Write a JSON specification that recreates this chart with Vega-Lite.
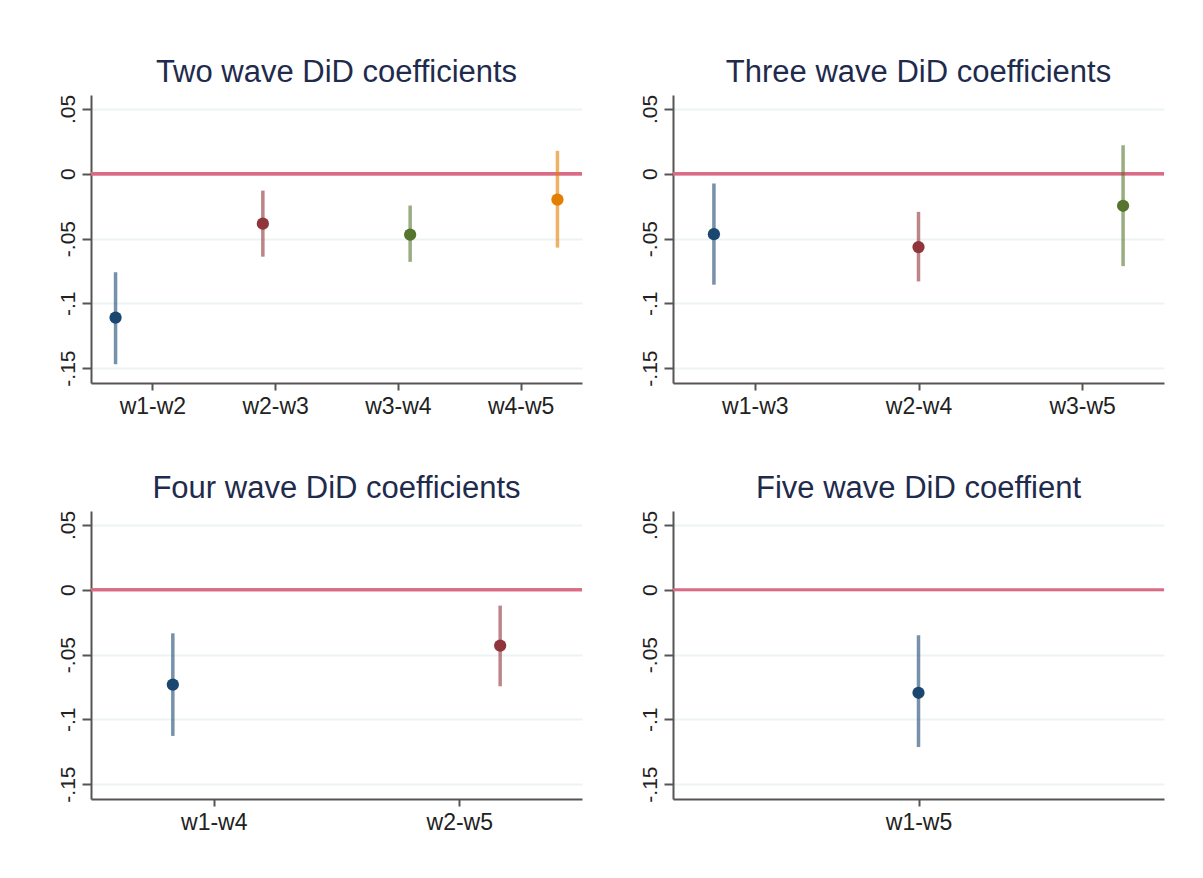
{
  "$schema": "https://vega.github.io/schema/vega-lite/v6.json",
  "background": "white",
  "padding": {"left": 57, "top": 57, "right": 10, "bottom": 10},
  "datasets": {
    "p1": [
      {"label": "w1-w2", "k": 1, "coef": -0.111, "lo": -0.147, "hi": -0.076},
      {"label": "w2-w3", "k": 2, "coef": -0.0385, "lo": -0.064, "hi": -0.013},
      {"label": "w3-w4", "k": 3, "coef": -0.047, "lo": -0.068, "hi": -0.0245},
      {"label": "w4-w5", "k": 4, "coef": -0.020, "lo": -0.057, "hi": 0.0177}
    ],
    "p2": [
      {"label": "w1-w3", "k": 1, "coef": -0.0466, "lo": -0.0856, "hi": -0.0075},
      {"label": "w2-w4", "k": 2, "coef": -0.0566, "lo": -0.0831, "hi": -0.0294},
      {"label": "w3-w5", "k": 3, "coef": -0.0247, "lo": -0.0713, "hi": 0.022}
    ],
    "p3": [
      {"label": "w1-w4", "k": 1, "coef": -0.0732, "lo": -0.1128, "hi": -0.0336},
      {"label": "w2-w5", "k": 2, "coef": -0.0431, "lo": -0.0745, "hi": -0.0122}
    ],
    "p4": [
      {"label": "w1-w5", "k": 1, "coef": -0.0795, "lo": -0.1214, "hi": -0.0351}
    ]
  },
  "config": {
    "font": "Liberation Sans",
    "view": {"stroke": null},
    "title": {"fontSize": 31, "fontWeight": "normal", "color": "#1f2b4d", "offset": 5, "anchor": "middle"},
    "axis": {"domainColor": "#555555", "domainWidth": 2, "tickColor": "#555555", "tickWidth": 2, "labelColor": "#222222", "labelFont": "Liberation Sans", "title": null},
    "axisX": {"labelFontSize": 23, "tickSize": 7, "labelPadding": 5, "labelAngle": 0, "grid": false},
    "axisY": {"labelFontSize": 21, "tickSize": 9, "labelPadding": 4, "labelAngle": -90, "grid": true, "gridColor": "#edf3f4", "gridWidth": 2, "labelExpr": "datum.value == 0 ? '0' : (datum.value < 0 ? '-' : '') + replace(format(abs(datum.value), '.2~f'), '0.', '.')"}
  },
  "vconcat": [
    {
      "hconcat": [
        {
          "title": "Two wave DiD coefficients",
          "width": 491, "height": 288,
          "data": {"name": "p1"},
          "layer": [
            {"mark": {"type": "point", "opacity": 0},
             "encoding": {
               "x": {"field": "label", "type": "nominal", "sort": null, "scale": {"type": "point", "padding": 0.5}},
               "y": {"field": "coef", "type": "quantitative", "scale": {"domain": [-0.1615, 0.0608], "nice": false, "zero": false}, "axis": {"values": [-0.15, -0.1, -0.05, 0, 0.05]}}
             }},
            {"mark": {"type": "rule", "color": "#db6b84", "strokeWidth": 3},
             "encoding": {"y": {"datum": 0, "type": "quantitative", "scale": {"domain": [-0.1615, 0.0608], "nice": false, "zero": false}, "axis": {"values": [-0.15, -0.1, -0.05, 0, 0.05]}}}},
            {"mark": {"type": "rule", "strokeWidth": 3.5, "opacity": 0.6},
             "encoding": {
               "x": {"field": "label", "type": "nominal", "sort": null, "scale": {"type": "point", "padding": 0.1667}, "axis": null},
               "y": {"field": "lo", "type": "quantitative", "scale": {"domain": [-0.1615, 0.0608], "nice": false, "zero": false}, "axis": {"values": [-0.15, -0.1, -0.05, 0, 0.05]}},
               "y2": {"field": "hi"},
               "color": {"field": "k", "type": "nominal", "scale": {"domain": [1, 2, 3, 4], "range": ["#1a476f", "#90353b", "#55752f", "#e37e00"]}, "legend": null}
             }},
            {"mark": {"type": "point", "filled": true, "size": 150, "opacity": 1},
             "encoding": {
               "x": {"field": "label", "type": "nominal", "sort": null, "scale": {"type": "point", "padding": 0.1667}, "axis": null},
               "y": {"field": "coef", "type": "quantitative", "scale": {"domain": [-0.1615, 0.0608], "nice": false, "zero": false}, "axis": {"values": [-0.15, -0.1, -0.05, 0, 0.05]}},
               "color": {"field": "k", "type": "nominal", "scale": {"domain": [1, 2, 3, 4], "range": ["#1a476f", "#90353b", "#55752f", "#e37e00"]}, "legend": null}
             }}
          ],
          "resolve": {"scale": {"x": "independent"}}
        },
        {
          "title": "Three wave DiD coefficients",
          "width": 491, "height": 288,
          "data": {"name": "p2"},
          "layer": [
            {"mark": {"type": "point", "opacity": 0},
             "encoding": {
               "x": {"field": "label", "type": "nominal", "sort": null, "scale": {"type": "point", "padding": 0.5}},
               "y": {"field": "coef", "type": "quantitative", "scale": {"domain": [-0.1615, 0.0608], "nice": false, "zero": false}, "axis": {"values": [-0.15, -0.1, -0.05, 0, 0.05]}}
             }},
            {"mark": {"type": "rule", "color": "#db6b84", "strokeWidth": 3},
             "encoding": {"y": {"datum": 0, "type": "quantitative", "scale": {"domain": [-0.1615, 0.0608], "nice": false, "zero": false}, "axis": {"values": [-0.15, -0.1, -0.05, 0, 0.05]}}}},
            {"mark": {"type": "rule", "strokeWidth": 3.5, "opacity": 0.6},
             "encoding": {
               "x": {"field": "label", "type": "nominal", "sort": null, "scale": {"type": "point", "padding": 0.2}, "axis": null},
               "y": {"field": "lo", "type": "quantitative", "scale": {"domain": [-0.1615, 0.0608], "nice": false, "zero": false}, "axis": {"values": [-0.15, -0.1, -0.05, 0, 0.05]}},
               "y2": {"field": "hi"},
               "color": {"field": "k", "type": "nominal", "scale": {"domain": [1, 2, 3, 4], "range": ["#1a476f", "#90353b", "#55752f", "#e37e00"]}, "legend": null}
             }},
            {"mark": {"type": "point", "filled": true, "size": 150, "opacity": 1},
             "encoding": {
               "x": {"field": "label", "type": "nominal", "sort": null, "scale": {"type": "point", "padding": 0.2}, "axis": null},
               "y": {"field": "coef", "type": "quantitative", "scale": {"domain": [-0.1615, 0.0608], "nice": false, "zero": false}, "axis": {"values": [-0.15, -0.1, -0.05, 0, 0.05]}},
               "color": {"field": "k", "type": "nominal", "scale": {"domain": [1, 2, 3, 4], "range": ["#1a476f", "#90353b", "#55752f", "#e37e00"]}, "legend": null}
             }}
          ],
          "resolve": {"scale": {"x": "independent"}}
        }
      ],
      "spacing": 55
    },
    {
      "hconcat": [
        {
          "title": "Four wave DiD coefficients",
          "width": 491, "height": 288,
          "data": {"name": "p3"},
          "layer": [
            {"mark": {"type": "point", "opacity": 0},
             "encoding": {
               "x": {"field": "label", "type": "nominal", "sort": null, "scale": {"type": "point", "padding": 0.5}},
               "y": {"field": "coef", "type": "quantitative", "scale": {"domain": [-0.1615, 0.0608], "nice": false, "zero": false}, "axis": {"values": [-0.15, -0.1, -0.05, 0, 0.05]}}
             }},
            {"mark": {"type": "rule", "color": "#db6b84", "strokeWidth": 3},
             "encoding": {"y": {"datum": 0, "type": "quantitative", "scale": {"domain": [-0.1615, 0.0608], "nice": false, "zero": false}, "axis": {"values": [-0.15, -0.1, -0.05, 0, 0.05]}}}},
            {"mark": {"type": "rule", "strokeWidth": 3.5, "opacity": 0.6},
             "encoding": {
               "x": {"field": "label", "type": "nominal", "sort": null, "scale": {"type": "point", "padding": 0.25}, "axis": null},
               "y": {"field": "lo", "type": "quantitative", "scale": {"domain": [-0.1615, 0.0608], "nice": false, "zero": false}, "axis": {"values": [-0.15, -0.1, -0.05, 0, 0.05]}},
               "y2": {"field": "hi"},
               "color": {"field": "k", "type": "nominal", "scale": {"domain": [1, 2, 3, 4], "range": ["#1a476f", "#90353b", "#55752f", "#e37e00"]}, "legend": null}
             }},
            {"mark": {"type": "point", "filled": true, "size": 150, "opacity": 1},
             "encoding": {
               "x": {"field": "label", "type": "nominal", "sort": null, "scale": {"type": "point", "padding": 0.25}, "axis": null},
               "y": {"field": "coef", "type": "quantitative", "scale": {"domain": [-0.1615, 0.0608], "nice": false, "zero": false}, "axis": {"values": [-0.15, -0.1, -0.05, 0, 0.05]}},
               "color": {"field": "k", "type": "nominal", "scale": {"domain": [1, 2, 3, 4], "range": ["#1a476f", "#90353b", "#55752f", "#e37e00"]}, "legend": null}
             }}
          ],
          "resolve": {"scale": {"x": "independent"}}
        },
        {
          "title": "Five wave DiD coeffient",
          "width": 491, "height": 288,
          "data": {"name": "p4"},
          "layer": [
            {"mark": {"type": "point", "opacity": 0},
             "encoding": {
               "x": {"field": "label", "type": "nominal", "sort": null, "scale": {"type": "point", "padding": 0.5}},
               "y": {"field": "coef", "type": "quantitative", "scale": {"domain": [-0.1615, 0.0608], "nice": false, "zero": false}, "axis": {"values": [-0.15, -0.1, -0.05, 0, 0.05]}}
             }},
            {"mark": {"type": "rule", "color": "#db6b84", "strokeWidth": 3},
             "encoding": {"y": {"datum": 0, "type": "quantitative", "scale": {"domain": [-0.1615, 0.0608], "nice": false, "zero": false}, "axis": {"values": [-0.15, -0.1, -0.05, 0, 0.05]}}}},
            {"mark": {"type": "rule", "strokeWidth": 3.5, "opacity": 0.6},
             "encoding": {
               "x": {"field": "label", "type": "nominal", "sort": null, "scale": {"type": "point", "padding": 0.5}, "axis": null},
               "y": {"field": "lo", "type": "quantitative", "scale": {"domain": [-0.1615, 0.0608], "nice": false, "zero": false}, "axis": {"values": [-0.15, -0.1, -0.05, 0, 0.05]}},
               "y2": {"field": "hi"},
               "color": {"field": "k", "type": "nominal", "scale": {"domain": [1, 2, 3, 4], "range": ["#1a476f", "#90353b", "#55752f", "#e37e00"]}, "legend": null}
             }},
            {"mark": {"type": "point", "filled": true, "size": 150, "opacity": 1},
             "encoding": {
               "x": {"field": "label", "type": "nominal", "sort": null, "scale": {"type": "point", "padding": 0.5}, "axis": null},
               "y": {"field": "coef", "type": "quantitative", "scale": {"domain": [-0.1615, 0.0608], "nice": false, "zero": false}, "axis": {"values": [-0.15, -0.1, -0.05, 0, 0.05]}},
               "color": {"field": "k", "type": "nominal", "scale": {"domain": [1, 2, 3, 4], "range": ["#1a476f", "#90353b", "#55752f", "#e37e00"]}, "legend": null}
             }}
          ],
          "resolve": {"scale": {"x": "independent"}}
        }
      ],
      "spacing": 55
    }
  ],
  "spacing": 55
}
